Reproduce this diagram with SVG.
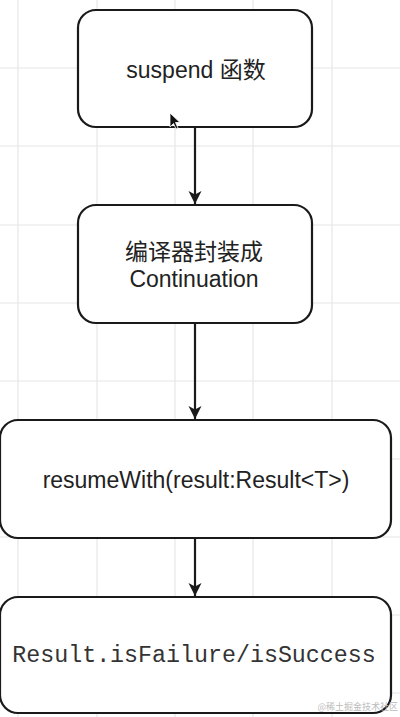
<svg xmlns="http://www.w3.org/2000/svg" width="400" height="717" viewBox="0 0 400 717">
<style>
.grid{stroke:#e6e6e6;stroke-width:1.2}
.box{fill:#ffffff;stroke:#1a1a1a;stroke-width:2.2}
.edge{stroke:#1a1a1a;stroke-width:2.2;fill:none}
.lbl{font-family:"Liberation Sans","Noto Sans CJK SC",sans-serif;font-size:23px;fill:#222;text-anchor:middle}
.mono{font-family:"Liberation Mono",monospace;font-size:23.3px;fill:#333;text-anchor:middle}
</style>
<defs>
<marker id="ah" markerUnits="userSpaceOnUse" markerWidth="16" markerHeight="16" viewBox="-14 -8 16 16" refX="0" refY="0" orient="auto">
<path d="M0,0 L-13,-6.5 L-9.5,0 L-13,6.5 Z" fill="#1a1a1a"/>
</marker>
</defs>
<rect width="400" height="717" fill="#ffffff"/>
<g id="grid">
<line class="grid" x1="18" y1="0" x2="18" y2="717"/>
<line class="grid" x1="97" y1="0" x2="97" y2="717"/>
<line class="grid" x1="175" y1="0" x2="175" y2="717"/>
<line class="grid" x1="253" y1="0" x2="253" y2="717"/>
<line class="grid" x1="332" y1="0" x2="332" y2="717"/>
<line class="grid" x1="0" y1="68" x2="400" y2="68"/>
<line class="grid" x1="0" y1="146" x2="400" y2="146"/>
<line class="grid" x1="0" y1="225" x2="400" y2="225"/>
<line class="grid" x1="0" y1="303" x2="400" y2="303"/>
<line class="grid" x1="0" y1="381" x2="400" y2="381"/>
<line class="grid" x1="0" y1="459" x2="400" y2="459"/>
<line class="grid" x1="0" y1="537" x2="400" y2="537"/>
<line class="grid" x1="0" y1="615" x2="400" y2="615"/>
<line class="grid" x1="0" y1="693" x2="400" y2="693"/>
</g>
<g id="connectors">
<line class="edge" x1="195" y1="127" x2="195" y2="204" marker-end="url(#ah)"/>
<line class="edge" x1="195" y1="323" x2="195" y2="419" marker-end="url(#ah)"/>
<line class="edge" x1="195" y1="538" x2="195" y2="596" marker-end="url(#ah)"/>
</g>
<g id="node1">
<rect class="box" x="78" y="10" width="234" height="117" rx="18"/>
<text class="lbl" x="196" y="78">suspend 函数</text>
</g>
<g id="node2">
<rect class="box" x="78" y="205" width="234" height="118" rx="18"/>
<text class="lbl" x="194" y="260">编译器封装成</text>
<text class="lbl" x="194" y="287">Continuation</text>
</g>
<g id="node3">
<rect class="box" x="0" y="420" width="391" height="118" rx="18"/>
<text class="lbl" x="196" y="488">resumeWith(result:Result&lt;T&gt;)</text>
</g>
<g id="node4">
<rect class="box" x="0" y="597" width="391" height="116" rx="18"/>
<text class="mono" x="194" y="662">Result.isFailure/isSuccess</text>
</g>
<path d="M170,113 L170,127 L173.5,123.5 L176,129 L178,128 L175.5,122.5 L180,122.5 Z" fill="#111" stroke="#fff" stroke-width="0.8"/>
<text x="398" y="710" font-family="'Noto Sans CJK SC',sans-serif" font-size="9" fill="#bbb" text-anchor="end">@稀土掘金技术社区</text>
</svg>
